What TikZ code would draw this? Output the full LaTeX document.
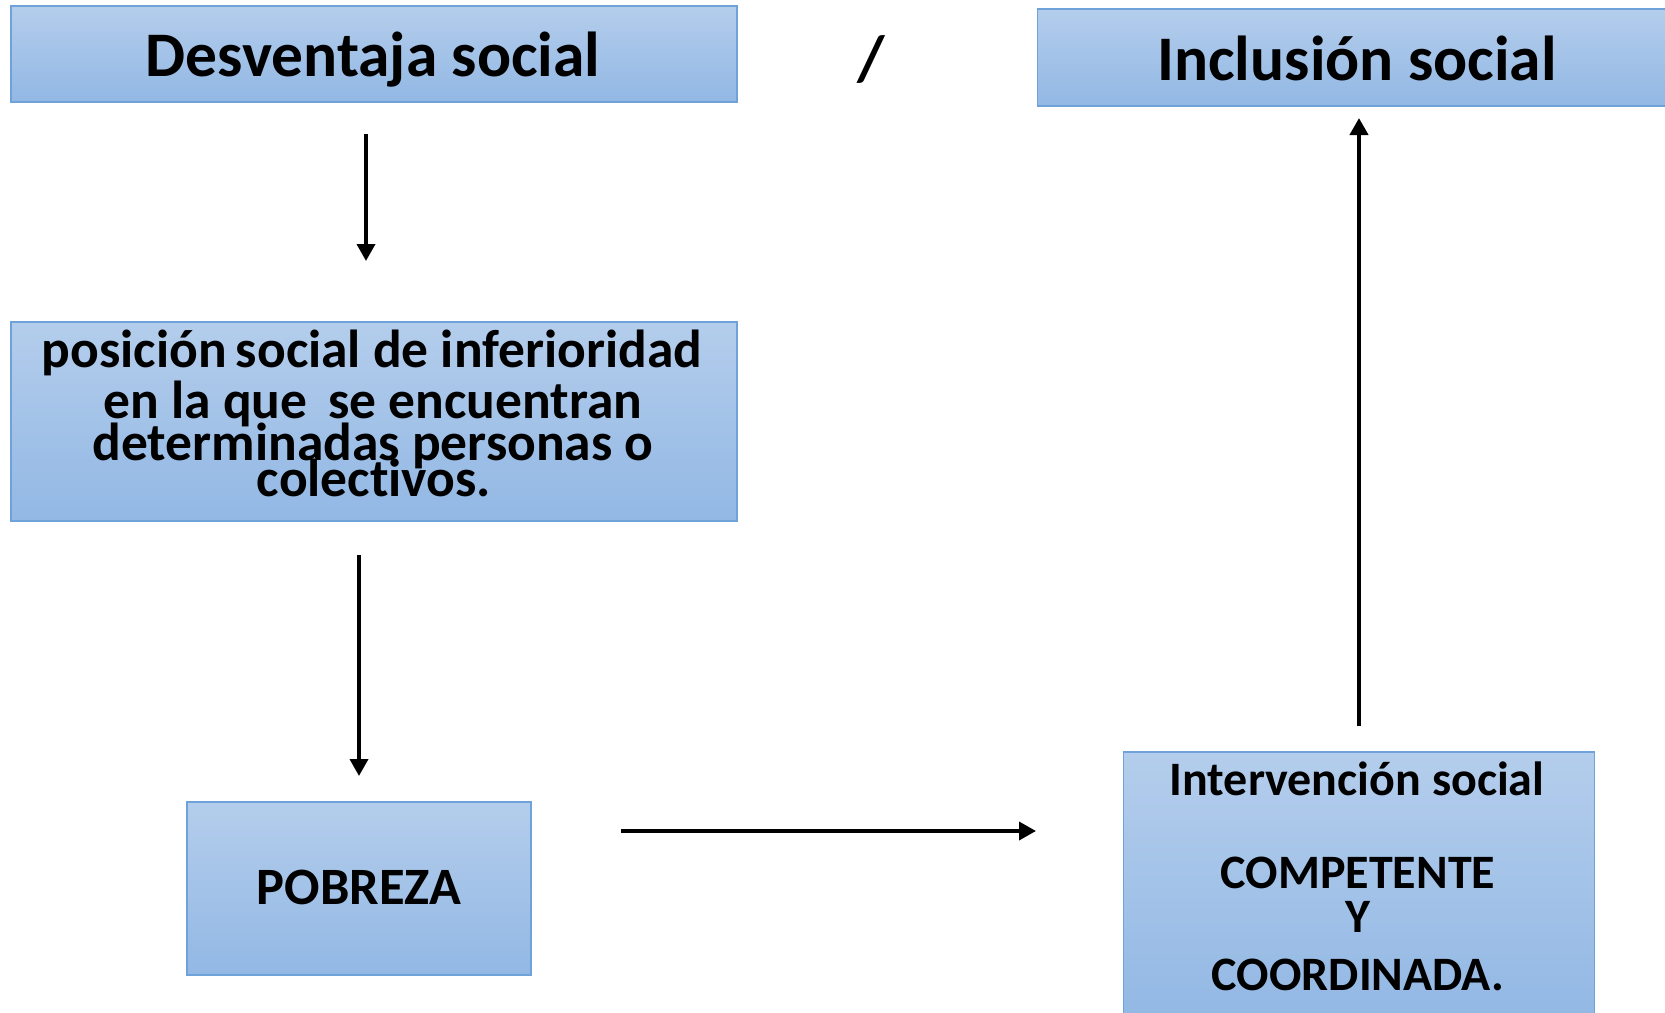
\documentclass[tikz,border=0pt]{standalone}
\usepackage{fontspec}
\setmainfont{Carlito}[Ligatures=NoCommon]
\usetikzlibrary{arrows.meta}
\definecolor{boxtop}{RGB}{180,205,236}
\definecolor{boxbot}{RGB}{146,184,228}
\definecolor{boxline}{RGB}{112,162,218}
\tikzset{
  bluebox/.style={rectangle, draw=boxline, line width=1.2pt, top color=boxtop, bottom color=boxbot, inner sep=0pt},
  txt/.style={anchor=base, inner sep=0pt, font=\bfseries},
  conn/.style={line width=3.6pt, -{Triangle[width=18pt,length=17pt]}}
}
\begin{document}
\begin{tikzpicture}[x=1pt,y=-1pt]
\useasboundingbox (0,0) rectangle (1665,1012);
\clip (0,0) rectangle (1665,1012);
% boxes
\node[bluebox, minimum width=726pt, minimum height=96pt] (b1) at (374,54) {};
\node[bluebox, minimum width=632pt, minimum height=97pt] (b2) at (1353.5,57.5) {};
\node[bluebox, minimum width=726pt, minimum height=199pt] (b3) at (374,421.5) {};
\node[bluebox, minimum width=344pt, minimum height=173pt] (b4) at (359,888.5) {};
\node[bluebox, minimum width=471pt, minimum height=268pt] (b5) at (1359,886) {};
% texts
\node[txt, font=\bfseries\fontsize{63.5}{70}\selectfont] (t1) at (373,76) {Desventaja social};
\node[txt, font=\bfseries\fontsize{63.5}{70}\selectfont] (t2) at (1357,80) {Inclusión social};
\node[txt, font=\bfseries\fontsize{64}{70}\selectfont] (sl) at (871,80) {/};
\node[txt, font=\bfseries\fontsize{53.5}{60}\selectfont] (t3a) at (372,367) {posición\kern-3pt{} social de inferioridad};
\node[txt, font=\bfseries\fontsize{53.5}{60}\selectfont] (t3b) at (373,418) {en la que\, se encuentran};
\node[txt, font=\bfseries\fontsize{53.5}{60}\selectfont] (t3c) at (373,460) {determinadas personas o};
\node[txt, font=\bfseries\fontsize{53.5}{60}\selectfont] (t3d) at (374,496) {colect\kern0pt ivos.};
\node[txt, font=\bfseries\fontsize{52.5}{60}\selectfont] (t4) at (359,904) {POBREZA};
\node[txt, font=\bfseries\fontsize{48}{54}\selectfont] (t5a) at (1357,795) {Intervención social};
\node[txt, font=\bfseries\fontsize{48}{54}\selectfont] (t5b) at (1358,888) {COMPETENTE};
\node[txt, font=\bfseries\fontsize{48}{54}\selectfont] (t5c) at (1358,932) {Y};
\node[txt, font=\bfseries\fontsize{48}{54}\selectfont] (t5d) at (1358,990) {COORDINADA.};
% connector ends
\coordinate (a1s) at (366,134);
\coordinate (a1e) at (366,261);
\coordinate (a2s) at (359,555);
\coordinate (a2e) at (359,776);
\coordinate (a3s) at (621,831);
\coordinate (a3e) at (1036,831);
\coordinate (a4s) at (1359,726);
\coordinate (a4e) at (1359,118);
\draw[conn] (a1s) -- (a1e);
\draw[conn] (a2s) -- (a2e);
\draw[conn] (a3s) -- (a3e);
\draw[conn, line width=4pt] (a4s) -- (a4e);
\end{tikzpicture}
\end{document}
